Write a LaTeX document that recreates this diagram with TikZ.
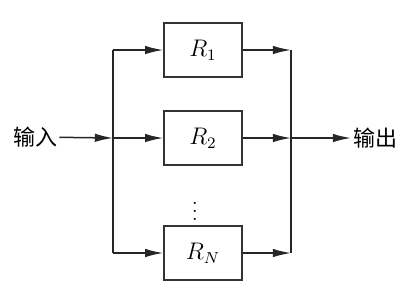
\documentclass[tikz,border=0pt]{standalone}
\usepackage{fontspec}
\usepackage{tikz}
\usetikzlibrary{arrows.meta,positioning,calc}
\newfontfamily\cjk{Noto Sans CJK SC}
\tikzset{
  blk/.style={draw=black!80,line width=0.75pt,minimum width=39pt,
              minimum height=27pt,inner sep=0pt,
              font=\fontsize{12}{14}\selectfont},
  lbl/.style={inner sep=1pt,font=\fontsize{11}{13}\selectfont\cjk},
  wire/.style={line width=0.75pt,draw=black!85},
  arr/.style={wire,-{Latex[length=3.2mm,width=1.5mm]}}
}
\begin{document}
\begin{tikzpicture}[x=0.5pt,y=-0.5pt]
    \useasboundingbox (0,0) rectangle (413,302);
    % branches
    \node[blk] (r1) at (203,50) {$R_1$};
    \node[blk] (r2) at (203,138) {$R_2$};
    \node[blk] (rN) at (203,253) {$R_N$};
    \node[inner sep=0pt] (dots) at (195,205) {$\vdots$};
    % input / output
    \node[lbl] (in) at (35,137) {输入};
    \node[lbl,anchor=west] (out) at (351,138) {输出};
    \coordinate (lb) at (113,138);
    \coordinate (rb) at (291,138);
    \draw[arr] (in) -- (lb);
    \draw[arr] (lb) -- (r2);
    \draw[wire] (lb |- rN.west) -- (lb |- r1.west);
    \draw[arr] (lb |- r1.west) -- (r1.west);
    \draw[arr] (lb |- rN.west) -- (rN.west);
    \foreach \b in {r1,r2,rN}
      \draw[arr] (\b.east) -- (rb |- \b.east);
    \draw[wire] (rb |- r1.east) -- (rb |- rN.east);
    \draw[arr] (rb) -- (out);
\end{tikzpicture}
\end{document}
